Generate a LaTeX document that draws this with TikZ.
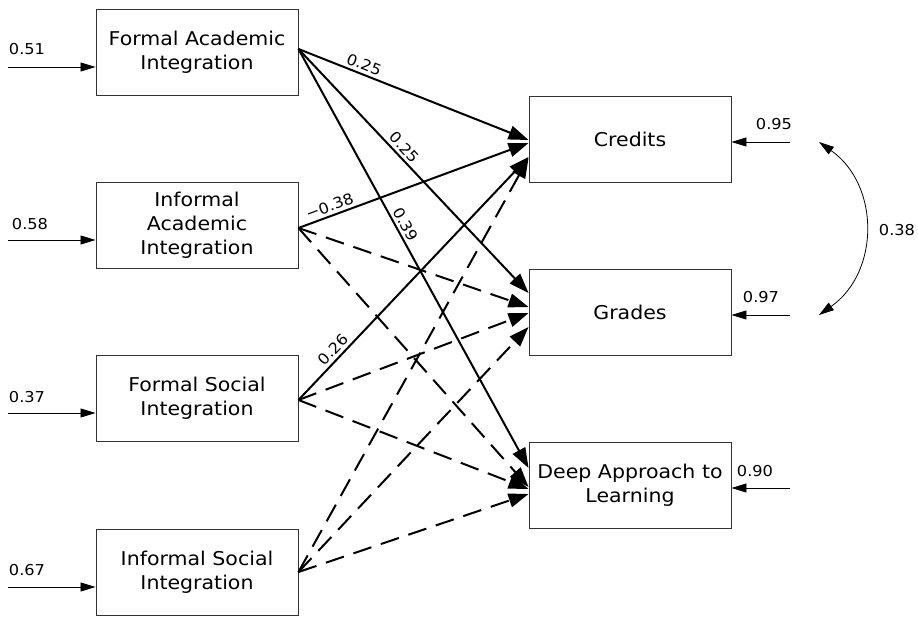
\documentclass[tikz,border=0pt]{standalone}
\usepackage{fontspec}
\setmainfont{DejaVu Sans}[FakeStretch=1.08]
\usetikzlibrary{arrows.meta, positioning, calc}

\begin{document}
\begin{tikzpicture}[x=1pt, y=-1pt,
      var/.style={draw=black!80, line width=0.9pt, minimum width=202pt, minimum height=86pt, inner sep=1pt,
                  align=center, font=\fontsize{19}{24}\selectfont},
      lab/.style={font=\fontsize{15}{18}\selectfont, inner sep=0pt},
      coef/.style={font=\fontsize{15}{18}\selectfont, sloped, above, inner sep=3pt},
      err/.style={line width=0.8pt, -{Triangle[length=15pt, width=9pt]}},
      pth/.style={line width=2pt, -{Triangle[length=20pt, width=14pt]}},
      dsh/.style={pth, dash pattern=on 19pt off 10pt}]
    \useasboundingbox (0,0) rectangle (918,616);
    % integration measures
    \node[var] (fa) at (197,52)    {Formal Academic\\Integration};
    \node[var] (ia) at (197,225.5) {Informal\\Academic\\Integration};
    \node[var] (fs) at (197,398.5) {Formal Social\\Integration};
    \node[var] (is) at (197,572)   {Informal Social\\Integration};
    % outcomes
    \node[var] (cr) at (630,139)   {Credits};
    \node[var] (gr) at (630,312)   {Grades};
    \node[var] (dp) at (630,485.5) {Deep Approach to\\Learning};
    % error terms, left
    \coordinate (e1) at (8,67);  \node[lab] (l1) at (27,49)  {0.51};
    \coordinate (e2) at (8,240); \node[lab] (l2) at (30,224) {0.58};
    \coordinate (e3) at (8,413); \node[lab] (l3) at (27,397) {0.37};
    \coordinate (e4) at (8,587); \node[lab] (l4) at (27,570) {0.67};
    \draw[err] (e1) -- (e1 -| fa.west);
    \draw[err] (e2) -- (e2 -| ia.west);
    \draw[err] (e3) -- (e3 -| fs.west);
    \draw[err] (e4) -- (e4 -| is.west);
    % error terms, right
    \coordinate (r1) at (790,142); \node[lab] (l5) at (774,124) {0.95};
    \coordinate (r2) at (790,315); \node[lab] (l6) at (761,297) {0.97};
    \coordinate (r3) at (790,488); \node[lab] (l7) at (755,471) {0.90};
    \draw[err] (r1) -- (r1 -| cr.east);
    \draw[err] (r2) -- (r2 -| gr.east);
    \draw[err] (r3) -- (r3 -| dp.east);
    \coordinate (c1) at (819,142);
    \coordinate (c2) at (819,315);
    \draw[line width=0.8pt, {Triangle[length=15pt, width=9pt]}-{Triangle[length=15pt, width=9pt]}]
      (c1) .. controls (880,185) and (880,272) .. (c2);
    \node[lab] (l8) at (897,230) {0.38};
    % paths
    \draw[pth] ([yshift=3pt]fa.east) -- node[coef, pos=.27] (k1) {0.25} ([yshift=-1pt]cr.west);
    \draw[pth] ([yshift=3pt]fa.east) -- node[coef, pos=.43] (k2) {0.25} ([yshift=19pt]gr.west);
    \draw[pth] ([yshift=3pt]fa.east) -- node[coef, pos=.43] (k3) {0.39} ([yshift=17.5pt]dp.west);
    \draw[pth] ([yshift=-2.5pt]ia.east) -- node[coef, pos=.15] (k4) {−0.38} ([yshift=-4pt]cr.west);
    \draw[dsh] ([yshift=-2.5pt]ia.east) -- ([yshift=5pt]gr.west);
    \draw[dsh] ([yshift=-2.5pt]ia.east) -- ([yshift=-1.5pt]dp.west);
    \draw[pth] ([yshift=-1.5pt]fs.east) -- node[coef, pos=.18] (k5) {0.26} ([yshift=-18pt]cr.west);
    \draw[dsh] ([yshift=-1.5pt]fs.east) -- ([yshift=-1pt]gr.west);
    \draw[dsh] ([yshift=-1.5pt]fs.east) -- ([yshift=-3.5pt]dp.west);
    \draw[dsh] (is.east) -- ([yshift=-19pt]cr.west);
    \draw[dsh] (is.east) -- ([yshift=-15pt]gr.west);
    \draw[dsh] (is.east) -- ([yshift=-8.5pt]dp.west);
  \end{tikzpicture}
\end{document}
